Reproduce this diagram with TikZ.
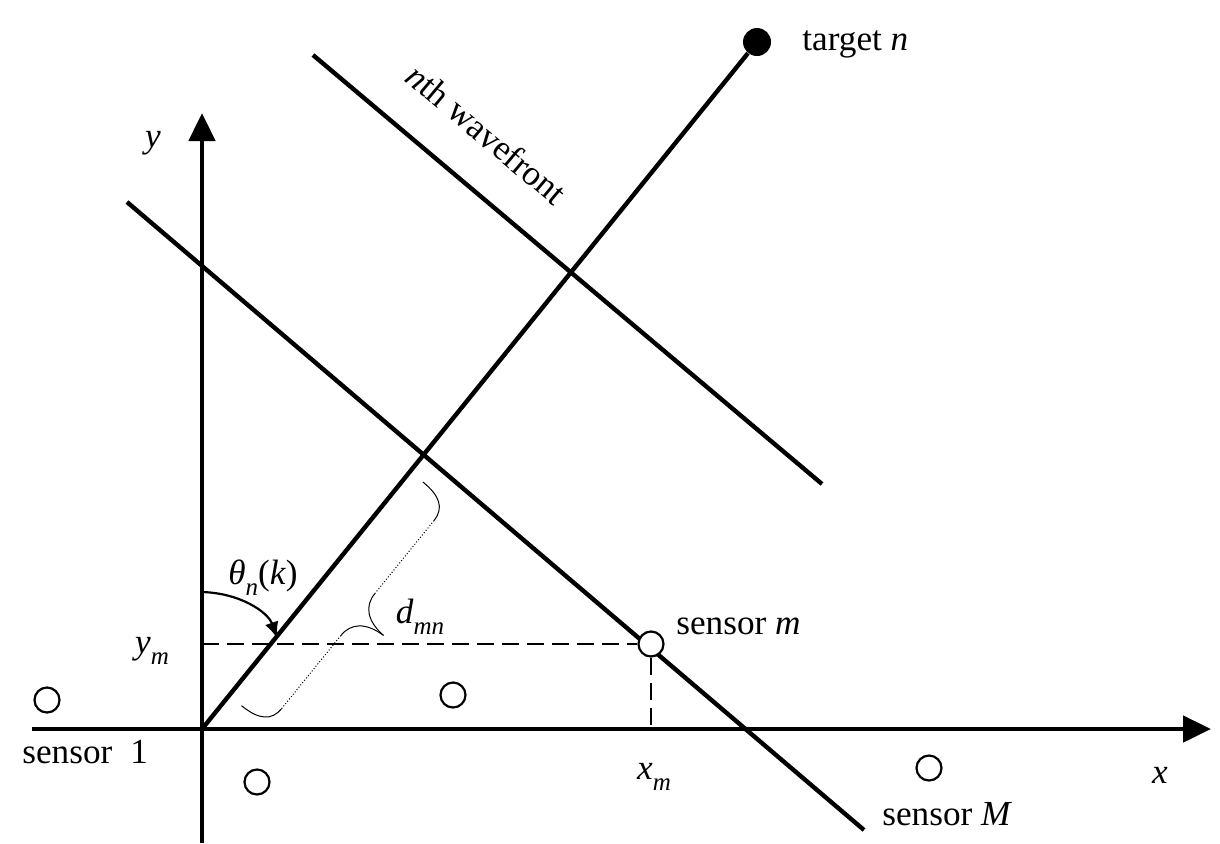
\documentclass[tikz,border=0pt]{standalone}
\usepackage{fontspec}
\setmainfont{Liberation Serif}
\usetikzlibrary{arrows.meta}
\newcommand{\lowsub}[1]{\raisebox{-0.32em}{\fontsize{12.5}{14}\selectfont\itshape #1}}

\begin{document}
\begin{tikzpicture}[x=0.5pt,y=-0.5pt,
  lbl/.style={font=\fontsize{17.6}{21}\selectfont,inner sep=0pt},
  sensor/.style={circle,draw,line width=1.1pt,fill=white,minimum size=12.5pt,inner sep=0pt},
  wave/.style={line width=2.2pt},
  axisline/.style={line width=2.4pt,-{Triangle[length=14pt,width=13pt]}},
  guide/.style={line width=1.4pt,dash pattern=on 8.5pt off 4pt}]
\useasboundingbox (0,0) rectangle (1220,843);
% axes
\coordinate (O) at (202,729);
\coordinate (xs) at (32,729);
\coordinate (xe) at (1211,729);
\coordinate (ys) at (202,843);
\coordinate (ye) at (202,113);
\draw[axisline] (xs) -- (xe);
\draw[axisline] (ys) -- (ye);
\node[lbl] (xl) at (1160,775) {\textit{x}};
\node[lbl] (yl) at (153,143) {\textit{y}};
% target and bearing line
\node[circle,fill,minimum size=14pt,inner sep=0pt] (tn) at (757,42) {};
\node[lbl,anchor=base west] (tnl) at (802,50) {target \textit{n}};
\draw[wave] (O) -- (tn);
% wavefronts
\coordinate (w1a) at (127,202);
\coordinate (w1b) at (864,830);
\coordinate (w2a) at (313,55);
\coordinate (w2b) at (822,484);
\draw[wave] (w1a) -- (w1b);
\draw[wave] (w2a) -- (w2b);
\node[lbl,rotate=-40] (wf) at (487,134) {\textit{n}th wavefront};
% sensors
\node[sensor] (s1) at (47,700) {};
\node[sensor] (s2) at (257,782) {};
\node[sensor] (s3) at (453,695) {};
\node[sensor] (sm) at (651,644) {};
\node[sensor] (sM) at (929,768) {};
\node[lbl,anchor=base west] (s1l) at (22,763) {sensor\hspace{9pt}1};
\node[lbl,anchor=base west] (sml) at (676,634) {sensor \textit{m}};
\node[lbl,anchor=base west] (sMl) at (882,825) {sensor \textit{M}};
% projections of sensor m
\coordinate (ymt) at (202,644);
\coordinate (xmt) at (651,729);
\draw[guide] (ymt) -- (sm);
\draw[guide] (sm) -- (xmt);
\node[lbl] (yml) at (152,651) {\textit{y}\lowsub{m}};
\node[lbl] (xml) at (654,777) {\textit{x}\lowsub{m}};
% bearing angle
\coordinate (ta) at (202,592);
\coordinate (tb) at (277,638);
\draw[line width=1.1pt,-{Latex[length=8pt,width=7pt]}] (ta) .. controls (240,593) and (268,612) .. (tb);
\node[lbl] (thl) at (263,578) {\textit{θ}\lowsub{n}(\textit{k})};
% distance brace
\begin{scope}[shift={(O)},rotate=50.98,line width=0.5pt]
  \draw (43,16) .. controls (43,38) and (50,49) .. (66,49);
  \draw[densely dotted] (66,49) -- (160,49);
  \draw (160,49) .. controls (176,49) and (186,60) .. (187,82);
  \draw (187,82) .. controls (188,60) and (198,49) .. (214,49);
  \draw[densely dotted] (214,49) -- (308,49);
  \draw (308,49) .. controls (324,49) and (331,38) .. (331,16);
\end{scope}
\node[lbl] (dl) at (420,617) {\textit{d}\lowsub{mn}};
\end{tikzpicture}
\end{document}
